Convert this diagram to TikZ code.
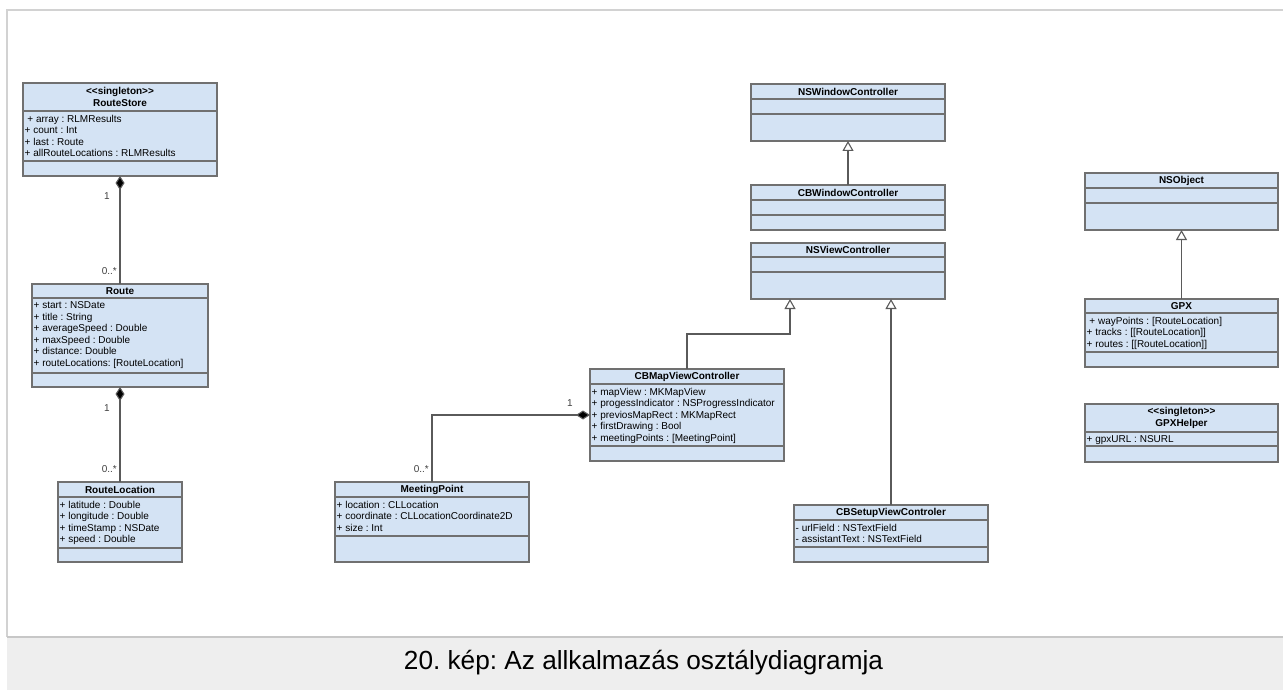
\documentclass[tikz,border=0pt]{standalone}
\usepackage{fontspec}
\setmainfont{Liberation Sans}[Ligatures=TeXOff]
\usetikzlibrary{arrows.meta,calc}
\frenchspacing

\definecolor{clsfill}{HTML}{D4E3F4}
\definecolor{clsdraw}{HTML}{707070}
\definecolor{linkcol}{HTML}{5A5A5A}
\definecolor{framecol}{HTML}{D2D2D2}
\definecolor{bandcol}{HTML}{EEEEEE}

\tikzset{
  clsbox/.style={draw=clsdraw, fill=clsfill, line width=1.2pt, outer sep=0pt, inner sep=0pt},
  clsdiv/.style={draw=clsdraw, line width=1.2pt},
  clshead/.style={font=\bfseries\fontsize{10}{12.5}\selectfont, align=center, inner sep=0pt},
  clsattr/.style={font=\fontsize{10}{11.5}\selectfont, align=left, inner xsep=1.5pt, inner ysep=3.6pt},
  link/.style={draw=linkcol, line width=1.1pt},
  compos/.style={link, {Diamond[fill=black, length=14pt, width=9pt]}-},
  inherit/.style={link, -{Triangle[open, fill=white, length=10pt, width=11pt]}},
  mult/.style={font=\fontsize{10}{12}\selectfont, text=black!75, inner sep=0pt},
}

% class box: name, x, y, width, height, header height, attribute height, header, attributes
\newcommand\umlclass[9]{%
  \node[clsbox, minimum width=#4pt, minimum height=#5pt, anchor=north west] (#1) at (#2,#3) {};
  \draw[clsdiv] ([yshift=-#6pt]#1.north west) -- ([yshift=-#6pt]#1.north east);
  \draw[clsdiv] ([yshift=-#6pt-#7pt]#1.north west) -- ([yshift=-#6pt-#7pt]#1.north east);
  \node[clshead] (#1-head) at ([yshift=-#6pt/2]#1.north) {#8};
  \node[clsattr, anchor=north west] (#1-attrs) at ([yshift=-#6pt]#1.north west) {#9};
}

\begin{document}
\begin{tikzpicture}[x=1pt, y=-1pt]
\useasboundingbox (0,0) rectangle (1283,690);

% page frame and caption band
\fill[bandcol] (7,637) rectangle (1283,690);
\draw[framecol, line width=1.5pt] (1283,10) -- (7,10) -- (7,637);
\draw[framecol!95!black, line width=2pt] (7,637) -- (1283,637);
\node[font=\fontsize{26.2}{30}\selectfont] (caption) at (643.5,663) {20. kép: Az allkalmazás osztálydiagramja};

% model classes
\umlclass{store}{23}{83}{194}{93}{28}{50}{<<singleton>>\\RouteStore}
  {\ + array : RLMResults\\+ count : Int\\+ last : Route\\+ allRouteLocations : RLMResults}
\umlclass{route}{32}{284}{176}{103}{14}{75}{Route}
  {+ start : NSDate\\+ title : String\\+ averageSpeed : Double\\+ maxSpeed : Double\\+ distance: Double\\+ routeLocations: [RouteLocation]}
\umlclass{loc}{58}{482}{124}{80}{15}{51}{RouteLocation}
  {+ latitude : Double\\+ longitude : Double\\+ timeStamp : NSDate\\+ speed : Double}
\umlclass{meet}{335}{482}{194}{80}{15}{39}{MeetingPoint}
  {+ location : CLLocation\\+ coordinate : CLLocationCoordinate2D\\+ size : Int}

% controllers
\umlclass{map}{590}{369}{194}{92}{15}{62}{CBMapViewController}
  {+ mapView : MKMapView\\+ progessIndicator : NSProgressIndicator\\+ previosMapRect : MKMapRect\\+ firstDrawing : Bool\\+ meetingPoints : [MeetingPoint]}
\umlclass{nswin}{751}{84}{194}{57}{15}{15}{NSWindowController}{}
\umlclass{cbwin}{751}{185}{194}{45}{15}{15}{CBWindowController}{}
\umlclass{nsview}{751}{243}{194}{56}{14}{15}{NSViewController}{}
\umlclass{setup}{794}{505}{194}{57}{15}{27}{CBSetupViewControler}
  {- urlField : NSTextField\\- assistantText : NSTextField}

% GPX helpers
\umlclass{nsobj}{1085}{173}{193}{57}{15}{15}{NSObject}{}
\umlclass{gpx}{1085}{299}{193}{68}{14}{39}{GPX}
  {\ + wayPoints : [RouteLocation]\\+ tracks : [[RouteLocation]]\\+ routes : [[RouteLocation]]}
\umlclass{helper}{1085}{404}{193}{58}{28}{14}{<<singleton>>\\GPXHelper}
  {+ gpxURL : NSURL}

% compositions
\draw[compos] (store.south) -- (route.north);
\node[mult] (m1a) at (107,196) {1};
\node[mult, anchor=east] (m1b) at (117,271) {0..*};
\draw[compos] (route.south) -- (loc.north);
\node[mult] (m2a) at (107,408) {1};
\node[mult, anchor=east] (m2b) at (117,469) {0..*};
\draw[compos] (map.west) -| (meet.north);
\node[mult] (m3a) at (570,403) {1};
\node[mult, anchor=east] (m3b) at (429,469) {0..*};

% generalisations
\coordinate (nvL) at ([xshift=-58pt]nsview.south);
\coordinate (nvR) at ([xshift=44pt]nsview.south);
\draw[inherit] (cbwin.north) -- (nswin.south);
\draw[inherit] (map.north) |- ([yshift=-35pt]nvL) -- (nvL);
\draw[inherit] (setup.north) -- (setup.north |- nvR);
\draw[inherit] (gpx.north) -- (nsobj.south);
\end{tikzpicture}
\end{document}
